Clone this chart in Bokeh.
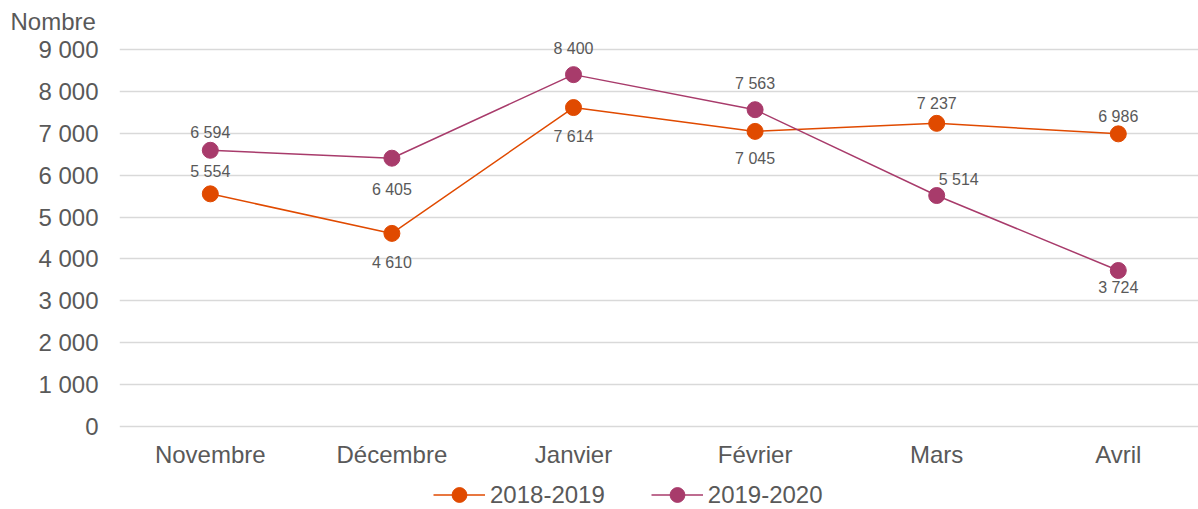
from bokeh.plotting import figure
from bokeh.models import ColumnDataSource, Range1d, FixedTicker, LabelSet, Legend, LegendItem
from bokeh.core.properties import value
from bokeh.embed import file_html
from bokeh.resources import INLINE

# ---- data ----
months = ["Novembre", "Décembre", "Janvier", "Février", "Mars", "Avril"]
series_names = ["2018-2019", "2019-2020"]
values_2018_2019 = [5554, 4610, 7614, 7045, 7237, 6986]
values_2019_2020 = [6594, 6405, 8400, 7563, 5514, 3724]
y_ticks = [0, 1000, 2000, 3000, 4000, 5000, 6000, 7000, 8000, 9000]
y_tick_labels = ["0", "1 000", "2 000", "3 000", "4 000", "5 000", "6 000", "7 000", "8 000", "9 000"]

# ---- styles ----
FONT = "Liberation Sans"
TXT = "#595959"
C1 = "#e04a00"
C2 = "#a83b6b"
# label placement (screen px) per point
lab_dx_1 = [0, 0, 0, 0, 0, 0]
lab_dy_1 = [22, -29, -29, -27, 20, 17]
lab_dx_2 = [0, 0, 0, 0, 22, 0]
lab_dy_2 = [18, -31, 26, 26, 16, -17]


def fmt(v):
    return f"{v:,}".replace(",", " ")


xs = list(range(len(months)))

PX_PER_CAT = 181.6
FRAME_W = 1198 - 119
PX_PER_UNIT = 377 / 9000.0
Y_TOP = 9000 + 9 / PX_PER_UNIT
Y_BOTTOM = -83 / PX_PER_UNIT

p = figure(width=1198, height=509, output_backend="svg", toolbar_location=None,
           x_range=Range1d(-0.5, -0.5 + FRAME_W / PX_PER_CAT), y_range=Range1d(Y_BOTTOM, Y_TOP),
           min_border_left=119, min_border_right=0, min_border_top=40, min_border_bottom=0)
p.outline_line_color = None
p.background_fill_color = "white"
p.border_fill_color = "white"

# title
p.title.text = "Nombre"
p.title.align = "left"
p.title.offset = -109
p.title.standoff = 11
p.title.text_font = FONT
p.title.text_font_size = "24px"
p.title.text_font_style = "normal"
p.title.text_color = TXT

# axes
p.xaxis.visible = False
p.yaxis.ticker = FixedTicker(ticks=y_ticks)
p.yaxis.major_label_overrides = {t: l for t, l in zip(y_ticks, y_tick_labels)}
ax = p.yaxis[0]
ax.axis_line_color = None
ax.major_tick_line_color = None
ax.minor_tick_line_color = None
ax.major_tick_in = 0
ax.major_tick_out = 0
ax.major_label_text_font = FONT
ax.major_label_text_font_size = "24px"
ax.major_label_text_color = TXT
ax.major_label_standoff = 21

p.xgrid.grid_line_color = None
p.ygrid.grid_line_color = "#d9d9d9"
p.ygrid.grid_line_width = 1.5

# category labels along the baseline
cat_src = ColumnDataSource(dict(x=xs, y=[0] * len(xs), t=months))
p.add_layout(LabelSet(x="x", y="y", text="t", source=cat_src, y_offset=-28,
                      text_align="center", text_baseline="middle",
                      text_font=value(FONT), text_font_size=value("24px"), text_color=TXT))

src1 = ColumnDataSource(dict(x=xs, y=values_2018_2019, t=[fmt(v) for v in values_2018_2019],
                             dx=lab_dx_1, dy=lab_dy_1))
src2 = ColumnDataSource(dict(x=xs, y=values_2019_2020, t=[fmt(v) for v in values_2019_2020],
                             dx=lab_dx_2, dy=lab_dy_2))

l1 = p.line("x", "y", source=src1, line_color=C1, line_width=1.5)
l2 = p.line("x", "y", source=src2, line_color=C2, line_width=1.5)
s1 = p.scatter("x", "y", source=src1, size=16, fill_color=C1, line_color=C1)
s2 = p.scatter("x", "y", source=src2, size=16, fill_color=C2, line_color=C2)

for src in (src1, src2):
    p.add_layout(LabelSet(x="x", y="y", text="t", source=src, x_offset="dx", y_offset="dy",
                          text_align="center", text_baseline="middle",
                          text_font=value(FONT), text_font_size=value("16px"), text_color=TXT))

legend = Legend(items=[LegendItem(label=series_names[0], renderers=[l1, s1]),
                       LegendItem(label=series_names[1], renderers=[l2, s2])],
                location=(314, -4), orientation="horizontal",
                glyph_width=52, glyph_height=37, label_standoff=5, spacing=46,
                padding=0, margin=0, border_line_alpha=0, background_fill_alpha=0,
                label_text_font=FONT, label_text_font_size="24px", label_text_color=TXT,
                label_height=24)
p.add_layout(legend)

open("out.html", "w").write(file_html(p, INLINE))
